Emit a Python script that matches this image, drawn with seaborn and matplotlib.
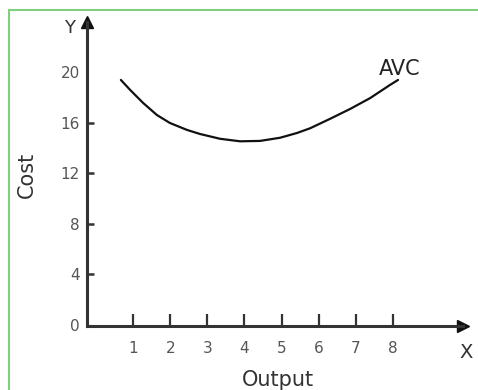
import matplotlib
matplotlib.use("Agg")
import matplotlib.pyplot as plt
import seaborn as sns
import pandas as pd
from matplotlib.patches import Rectangle

# data
output = [0.67, 0.92, 1.27, 1.64, 1.99, 2.45, 2.80, 3.34, 3.88, 4.42, 4.96,
          5.42, 5.77, 6.31, 6.85, 7.39, 7.92, 8.14]
avc = [19.37, 18.58, 17.55, 16.60, 15.97, 15.42, 15.10, 14.72, 14.52, 14.55, 14.80,
       15.18, 15.55, 16.30, 17.08, 17.94, 18.97, 19.37]
x_ticks = [1, 2, 3, 4, 5, 6, 7, 8]
y_ticks = [0, 4, 8, 12, 16, 20]

sns.set_theme(style="white")
plt.rcParams['font.family'] = ['DejaVu Sans']

fig = plt.figure(figsize=(4.78, 3.9), dpi=100)
W, H = 478, 390
ax = fig.add_axes([87 / W, 64 / H, (463 - 87) / W, (368 - 64) / H])

df = pd.DataFrame({"Output": output, "AVC": avc})
sns.lineplot(data=df, x="Output", y="AVC", ax=ax, color="#111111", linewidth=1.6, sort=False)

ax.set_xlim(-0.243, 9.89)
ax.set_ylim(-0.08, 23.95)

for s in ["top", "right"]:
    ax.spines[s].set_visible(False)
for s in ["left", "bottom"]:
    ax.spines[s].set_color("#333333")
    ax.spines[s].set_linewidth(2.2)

ax.set_xticks(x_ticks)
ax.set_yticks(y_ticks)
ax.set_xticklabels([str(v) for v in x_ticks])
ax.set_yticklabels([str(v) for v in y_ticks])
ax.tick_params(axis="x", direction="in", length=9, width=1.6, color="#333333",
               pad=11, labelsize=11, labelcolor="#555555", bottom=True)
ax.tick_params(axis="y", direction="in", length=5, width=1.8, color="#333333",
               pad=5, labelsize=11, labelcolor="#555555", left=True)
yt = ax.yaxis.get_major_ticks()
yt[0].tick1line.set_visible(False)
yt[-1].tick1line.set_visible(False)

ax.set_xlabel("")
ax.set_ylabel("")

# arrow heads
ax.plot([1], [0], marker=">", markersize=9, color="#111111", transform=ax.transAxes, clip_on=False)
ax.plot([0], [1], marker="^", markersize=9, color="#111111", transform=ax.transAxes, clip_on=False)

# labels
fig.text(27 / W, 1 - 175 / H, "Cost", rotation=90, ha="center", va="center", fontsize=15, color="#333333")
fig.text(278 / W, 1 - 380 / H, "Output", ha="center", va="center", fontsize=15, color="#333333")
fig.text(466 / W, 1 - 352 / H, "X", ha="center", va="center", fontsize=14, color="#333333")
fig.text(70 / W, 1 - 28 / H, "Y", ha="center", va="center", fontsize=13, color="#333333")
fig.text(400 / W, 1 - 69 / H, "AVC", ha="center", va="center", fontsize=15, color="#222222")

# border
fig.patches.append(Rectangle((9 / W, -0.1), 1.2, 1 - 10 / H + 0.1, transform=fig.transFigure,
                             fill=False, edgecolor="#7fcf7f", linewidth=1.5))

fig.savefig("out.png", dpi=100)
